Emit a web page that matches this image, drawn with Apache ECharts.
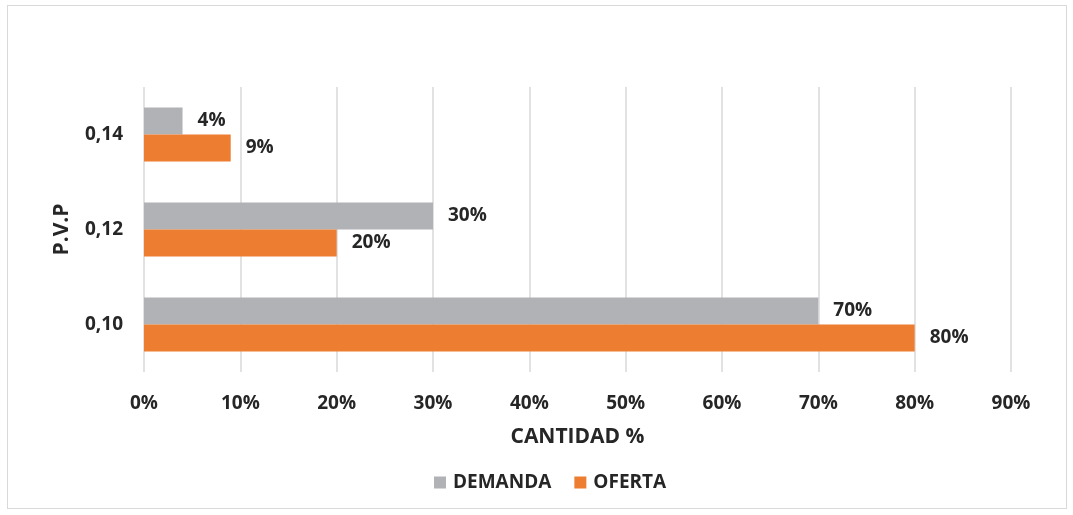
<!DOCTYPE html>
<html><head><meta charset="utf-8">
<script src="https://cdn.jsdelivr.net/npm/echarts@6/dist/echarts.min.js"></script>
<style>
html,body{margin:0;padding:0;background:#fff;}
#frame{position:absolute;left:7px;top:5px;width:1060px;height:504px;border:1px solid #d9d9d9;box-sizing:border-box;}
#c{position:absolute;left:0;top:0;width:1073px;height:515px;}
</style></head>
<body><div id="frame"></div><div id="c"></div>
<script>
const categories = ['0,10', '0,12', '0,14'];
const demanda = [70, 30, 4];
const oferta = [80, 20, 9];
const xTicks = [0, 10, 20, 30, 40, 50, 60, 70, 80, 90];

const chart = echarts.init(document.getElementById('c'));
const fontFam = '"Open Sans", "Liberation Sans", sans-serif';
const txt = '#262626';
const lbl = {show:true, position:'right', distance:15, formatter:'{c}%', color:txt, fontFamily:fontFam, fontWeight:'bold', fontSize:19};
chart.setOption({
  animation:false,
  grid:{left:144, right:62, top:87, bottom:143, containLabel:false},
  legend:{
    top:468, left:429, itemWidth:12, itemHeight:12, itemGap:23, icon:'rect',
    textStyle:{color:txt, fontFamily:fontFam, fontWeight:'bold', fontSize:19, padding:[0,0,0,2]},
    data:['DEMANDA','OFERTA']
  },
  xAxis:{
    type:'value', min:0, max:90, interval:10,
    name:'CANTIDAD %', nameLocation:'middle', nameGap:55,
    nameTextStyle:{color:txt, fontFamily:fontFam, fontWeight:'bold', fontSize:21},
    axisLine:{show:false}, axisTick:{show:false},
    axisLabel:{formatter:v=>v+'%', color:txt, fontFamily:fontFam, fontWeight:'bold', fontSize:19, margin:22},
    splitLine:{show:true, lineStyle:{color:'#d9d9d9', width:1.5}}
  },
  yAxis:{
    type:'category', data:categories,
    name:'P.V.P', nameLocation:'middle', nameGap:71, nameRotate:90,
    nameTextStyle:{color:txt, fontFamily:fontFam, fontWeight:'bold', fontSize:21},
    axisLine:{show:false}, axisTick:{show:false},
    axisLabel:{color:txt, fontFamily:fontFam, fontWeight:'bold', fontSize:19, margin:21}
  },
  series:[
    {name:'DEMANDA', type:'bar', data:demanda, barWidth:27, barGap:'0%', itemStyle:{color:'#B1B2B5'}, label:lbl},
    {name:'OFERTA', type:'bar', data:oferta, barWidth:27, barGap:'0%', itemStyle:{color:'#ED7D31'}, label:lbl}
  ]
});
</script></body></html>
